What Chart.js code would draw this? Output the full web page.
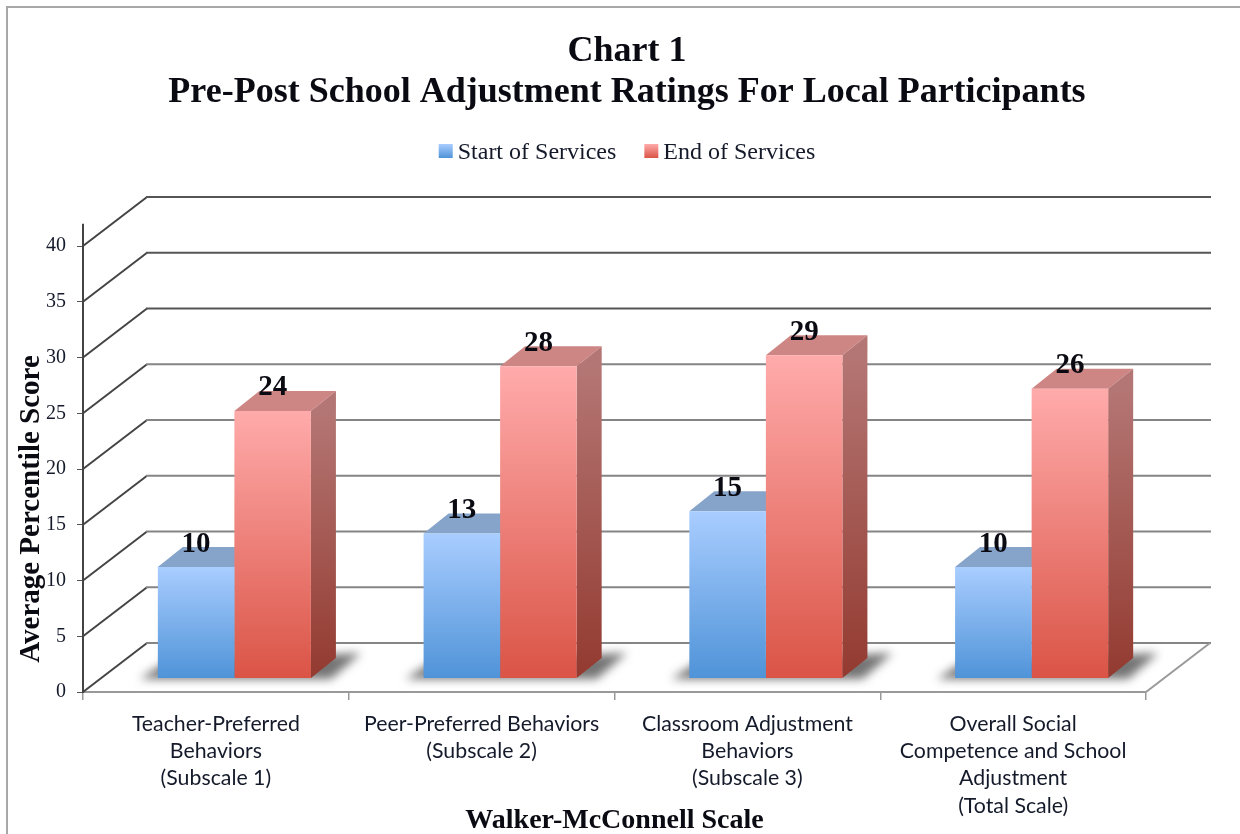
<!DOCTYPE html>
<html>
<head>
<meta charset="utf-8">
<title>Chart 1</title>
<script src="https://cdn.jsdelivr.net/npm/chart.js@4"></script>
<style>
  html, body { margin: 0; padding: 0; background: #fff; }
  canvas { display: block; }
</style>
</head>
<body>
<canvas id="chart" width="1240" height="834"></canvas>
<script>
// --- Data ---
const categories = [
    ['Teacher-Preferred', 'Behaviors', '(Subscale 1)'],
    ['Peer-Preferred Behaviors', '(Subscale 2)'],
    ['Classroom Adjustment', 'Behaviors', '(Subscale 3)'],
    ['Overall Social', 'Competence and School', 'Adjustment', '(Total Scale)']
];
const startValues = [10, 13, 15, 10];
const endValues = [24, 28, 29, 26];
const titleLines = ['Chart 1', 'Pre-Post School Adjustment Ratings For Local Participants'];
const seriesNames = ['Start of Services', 'End of Services'];

// --- Look ---
const serif = '"Liberation Serif", serif';
const textColor = '#141a2a';
const palette = [
    { light: '#a9cdff', dark: '#4f93d8', top: '#86a3ca', sideLight: '#7f9cc4', sideDark: '#3a6ea3' },
    { light: '#ffabab', dark: '#da5446', top: '#cd8684', sideLight: '#b47674', sideDark: '#933a30' }
];
const wall = { dx: 64, dy: 49 };       // floor depth, front axis to back wall
const bar3d = { dx: 25, dy: 20 };      // depth of one bar
const barShift = { x: 18.5, y: -13.5 }; // bars stand in the middle of the floor

function barGradient(ctx, top, bottom, colors) {
    const g = ctx.createLinearGradient(0, top, 0, bottom);
    g.addColorStop(0, colors[0]);
    g.addColorStop(1, colors[1]);
    return g;
}

function frontFill(seriesIndex) {
    const p = palette[seriesIndex];
    return context => {
        const chart = context.chart;
        if (!chart.chartArea || !context.parsed) return p.dark;
        const y = chart.scales.y;
        return barGradient(chart.ctx, y.getPixelForValue(context.parsed.y), y.getPixelForValue(0), [p.light, p.dark]);
    };
}

function polygon(ctx, pts, fill) {
    ctx.beginPath();
    pts.forEach((pt, i) => i ? ctx.lineTo(pt[0], pt[1]) : ctx.moveTo(pt[0], pt[1]));
    ctx.closePath();
    ctx.fillStyle = fill;
    ctx.fill();
}

// --- 3D look drawn around the library's own bars ---
const depthPlugin = {
    id: 'depth',
    beforeInit(chart) {
        // leave room between legend and plot
        const fit = chart.legend.fit;
        chart.legend.fit = function () {
            fit.call(this);
            this.height += 71;
        };
    },
    beforeDraw(chart) {
        const ctx = chart.ctx;
        ctx.save();
        ctx.strokeStyle = '#a8a8a8';
        ctx.lineWidth = 2;
        ctx.beginPath();
        ctx.moveTo(7, 834);
        ctx.lineTo(7, 7);
        ctx.lineTo(1240, 7);
        ctx.stroke();
        ctx.restore();
    },
    beforeDatasetsDraw(chart) {
        const ctx = chart.ctx;
        const area = chart.chartArea;
        const y = chart.scales.y;

        ctx.save();
        // walls
        y.ticks.forEach(t => {
            const py = y.getPixelForValue(t.value);
            ctx.lineWidth = 2;
            ctx.strokeStyle = '#444';
            ctx.beginPath();
            ctx.moveTo(area.left, py);
            ctx.lineTo(area.left + wall.dx, py - wall.dy);
            ctx.stroke();
            ctx.strokeStyle = t.value >= 30 ? '#555' : '#858585';
            ctx.beginPath();
            ctx.moveTo(area.left + wall.dx - 1, py - wall.dy);
            ctx.lineTo(area.right + wall.dx + 1, py - wall.dy);
            ctx.stroke();
        });
        // floor edge and the axis running past 40
        ctx.strokeStyle = '#999';
        ctx.beginPath();
        ctx.moveTo(area.right, area.bottom);
        ctx.lineTo(area.right + wall.dx, area.bottom - wall.dy);
        ctx.stroke();
        ctx.strokeStyle = '#444';
        ctx.beginPath();
        ctx.moveTo(area.left, y.getPixelForValue(40));
        ctx.lineTo(area.left, y.getPixelForValue(42));
        ctx.stroke();
        ctx.restore();

        ctx.save();
        ctx.translate(barShift.x, barShift.y);

        // floor shadows
        const startMeta = chart.getDatasetMeta(0).data;
        const endMeta = chart.getDatasetMeta(1).data;
        ctx.save();
        ctx.filter = 'blur(5px)';
        startMeta.forEach((el, i) => {
            const x0 = el.x - el.width / 2;
            const x1 = endMeta[i].x + endMeta[i].width / 2;
            polygon(ctx, [[x0 - 18, el.base + 1], [x0 + 8, el.base - 16], [x1 + 50, el.base - 25], [x1 + 20, el.base + 1]], '#747474');
        });
        ctx.restore();

        // tops and sides
        [startMeta, endMeta].forEach((bars, s) => {
            const p = palette[s];
            bars.forEach(el => {
                const left = el.x - el.width / 2;
                const right = el.x + el.width / 2;
                polygon(ctx, [[left, el.y], [right, el.y], [right + bar3d.dx, el.y - bar3d.dy], [left + bar3d.dx, el.y - bar3d.dy]], p.top);
                polygon(ctx, [[right, el.y], [right + bar3d.dx, el.y - bar3d.dy], [right + bar3d.dx, el.base - bar3d.dy], [right, el.base]],
                    barGradient(ctx, el.y, el.base, [p.sideLight, p.sideDark]));
            });
        });
    },
    afterDatasetsDraw(chart) {
        const ctx = chart.ctx;
        // value labels
        ctx.font = 'bold 29px ' + serif;
        ctx.fillStyle = '#0a0a12';
        ctx.textAlign = 'center';
        ctx.textBaseline = 'middle';
        [0, 1].forEach(s => {
            chart.getDatasetMeta(s).data.forEach((el, i) => {
                const v = chart.data.datasets[s].data[i];
                ctx.fillText(String(v), el.x, el.y - 23);
            });
        });
        ctx.restore();

        // y title sits lower than the middle of the scale
        ctx.save();
        ctx.translate(32, 509);
        ctx.rotate(-Math.PI / 2);
        ctx.font = 'bold 29px ' + serif;
        ctx.fillStyle = '#0a0a12';
        ctx.textAlign = 'center';
        ctx.textBaseline = 'middle';
        ctx.fillText('Average Percentile Score', 0, 0);
        ctx.restore();
    },
    afterDraw(chart) {
        // legend swatches, closer to their text than the library puts them
        const ctx = chart.ctx;
        chart.legend.legendHitBoxes.forEach((box, i) => {
            ctx.fillStyle = barGradient(ctx, 144, 158, [palette[i].light, palette[i].dark]);
            ctx.fillRect(box.left, 144, 14, 14);
        });
    }
};

// --- Chart ---
new Chart(document.getElementById('chart'), {
    type: 'bar',
    data: {
        labels: categories,
        datasets: [
            { label: seriesNames[0], data: startValues, backgroundColor: frontFill(0), clip: false },
            { label: seriesNames[1], data: endValues, backgroundColor: frontFill(1), clip: false }
        ]
    },
    options: {
        responsive: false,
        animation: false,
        layout: { padding: { top: 31, right: 0, left: 14, bottom: 0 } },
        datasets: { bar: { categoryPercentage: 0.576, barPercentage: 1 } },
        scales: {
            x: {
                afterFit: s => { s.height = 142; },
                grid: { drawOnChartArea: false, color: '#999', tickLength: 8, lineWidth: 1.5 },
                border: { color: '#999', width: 2 },
                ticks: { color: textColor, font: { family: 'Lato', size: 21.3, lineHeight: 1.27 }, padding: 11, maxRotation: 0, autoSkip: false },
                title: { display: true, text: 'Walker-McConnell Scale', color: '#0a0a12', font: { family: serif, size: 28, weight: 'bold' }, padding: { top: 0, bottom: -4 } }
            },
            y: {
                min: 0,
                max: 40,
                afterFit: s => { s.width = 69; },
                grid: { drawOnChartArea: false, color: '#555', tickLength: 6, lineWidth: 1 },
                border: { color: '#444', width: 2 },
                ticks: { stepSize: 5, color: textColor, font: { family: serif, size: 20 }, padding: 11 }
            },
            // empty axis, keeps the plot clear of the right edge while title and legend stay centred on the page
            rightGap: {
                position: 'right',
                afterFit: s => { s.width = 94; },
                grid: { display: false },
                border: { display: false },
                ticks: { display: false }
            }
        },
        plugins: {
            tooltip: { enabled: false },
            title: {
                display: true,
                text: titleLines,
                color: '#0a0a12',
                font: { family: serif, size: 36, weight: 'bold', lineHeight: 1.14 },
                padding: { top: 0, bottom: 0 }
            },
            legend: {
                position: 'top',
                labels: {
                    color: textColor,
                    font: { family: serif, size: 24 },
                    boxWidth: 7,
                    boxHeight: 14,
                    padding: 28,
                    generateLabels() {
                        return seriesNames.map((name, i) => ({
                            text: name,
                            fontColor: textColor,
                            fillStyle: 'transparent',
                            lineWidth: 0,
                            strokeStyle: 'transparent',
                            datasetIndex: i
                        }));
                    }
                }
            }
        }
    },
    plugins: [depthPlugin]
});
</script>
</body>
</html>
